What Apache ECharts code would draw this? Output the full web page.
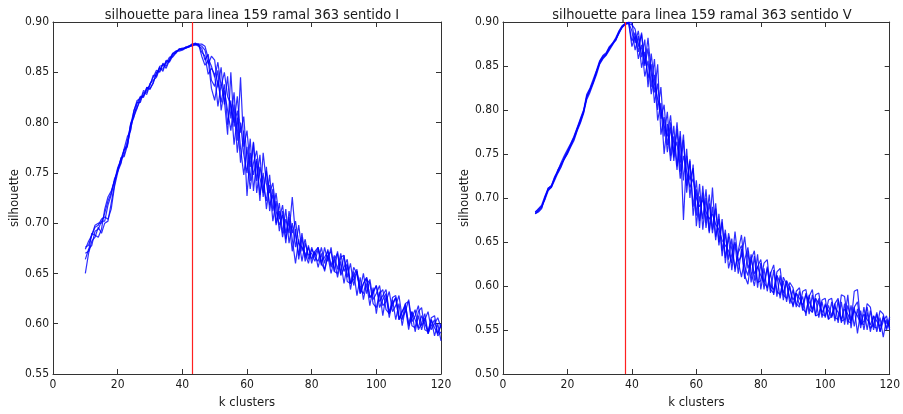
<!DOCTYPE html>
<html>
<head>
<meta charset="utf-8">
<script src="https://cdn.jsdelivr.net/npm/echarts@6/dist/echarts.min.js"></script>
<style>html,body{margin:0;padding:0;background:#fff}#c{width:903px;height:414px}</style>
</head>
<body>
<div id="c"></div>
<script>
const kValues = [10,11,12,13,14,15,16,17,18,19,20,21,22,23,24,25,26,27,28,29,30,31,32,33,34,35,36,37,38,39,40,41,42,43,44,45,46,47,48,49,50,51,52,53,54,55,56,57,58,59,60,61,62,63,64,65,66,67,68,69,70,71,72,73,74,75,76,77,78,79,80,81,82,83,84,85,86,87,88,89,90,91,92,93,94,95,96,97,98,99,100,101,102,103,104,105,106,107,108,109,110,111,112,113,114,115,116,117,118,119,120];

const titleI = "silhouette para linea 159 ramal 363 sentido I";
const titleV = "silhouette para linea 159 ramal 363 sentido V";
const bestK_I = 43;
const bestK_V = 38;
const xTicks = [0, 120, 20];
const yTicksI = [0.55, 0.90, 0.05];
const yTicksV = [0.50, 0.90, 0.05];

const runI_1 = [.650,.670,.682,.686,.696,.690,.700,.702,.720,.738,
.754,.760,.774,.786,.792,.812,.820,.820,.830,.828,
.838,.845,.852,.850,.858,.854,.862,.868,.871,.872,
.873,.874,.875,.878,.878,.878,.866,.857,.862,.834,
.822,.842,.820,.838,.798,.822,.778,.805,.760,.792,
.727,.770,.748,.764,.728,.750,.714,.738,.702,.722,
.692,.712,.684,.702,.672,.694,.664,.686,.662,.678,
.660,.672,.656,.670,.652,.668,.650,.664,.646,.662,
.640,.658,.634,.652,.628,.646,.624,.640,.618,.636,
.610,.632,.608,.628,.606,.624,.604,.620,.598,.616,
.594,.612,.592,.608,.594,.606,.590,.604,.588,.600,
.583];
const runI_2 = [.676,.678,.688,.696,.698,.704,.706,.704,.714,.736,
.750,.765,.766,.777,.799,.806,.814,.825,.825,.835,
.833,.840,.849,.855,.851,.861,.860,.866,.870,.873,
.873,.875,.875,.877,.879,.877,.876,.872,.858,.866,
.862,.835,.855,.818,.846,.804,.830,.782,.845,.776,
.792,.756,.780,.742,.768,.726,.756,.712,.734,.700,
.720,.690,.714,.680,.700,.676,.698,.672,.684,.664,
.674,.668,.676,.662,.666,.672,.656,.664,.670,.648,
.656,.664,.640,.648,.654,.630,.640,.646,.626,.630,
.638,.622,.628,.634,.612,.620,.626,.604,.612,.618,
.600,.612,.604,.596,.608,.600,.592,.604,.596,.590,
.600];
const runI_3 = [.670,.672,.690,.688,.686,.694,.714,.726,.732,.742,
.755,.763,.768,.782,.798,.811,.822,.824,.827,.833,
.837,.847,.846,.856,.857,.859,.865,.865,.869,.873,
.874,.874,.876,.877,.877,.878,.870,.866,.848,.854,
.848,.816,.838,.822,.788,.850,.796,.812,.775,.748,
.776,.742,.781,.730,.756,.738,.722,.748,.712,.730,
.704,.718,.690,.706,.684,.660,.684,.662,.680,.668,
.670,.662,.674,.658,.676,.662,.676,.652,.672,.650,
.668,.646,.660,.638,.652,.634,.650,.630,.644,.624,
.630,.638,.618,.622,.632,.612,.618,.628,.606,.612,
.624,.602,.608,.618,.598,.604,.612,.594,.600,.606,
.596];
const runI_4 = [.664,.674,.678,.692,.694,.702,.702,.718,.728,.744,
.751,.759,.773,.776,.797,.805,.819,.826,.826,.835,
.834,.839,.850,.851,.859,.856,.863,.869,.871,.871,
.872,.874,.876,.876,.878,.876,.874,.862,.868,.842,
.836,.852,.812,.832,.812,.792,.818,.770,.800,.768,
.750,.784,.732,.762,.722,.770,.740,.718,.728,.698,
.712,.686,.704,.690,.726,.688,.668,.690,.666,.676,
.664,.672,.676,.660,.654,.668,.672,.652,.650,.666,
.668,.642,.640,.656,.650,.634,.630,.644,.640,.620,
.616,.630,.634,.614,.610,.626,.628,.608,.604,.620,
.622,.598,.596,.612,.616,.594,.592,.606,.608,.590,
.598];
const runI_5 = [.674,.682,.688,.698,.700,.700,.710,.722,.730,.742,
.752,.764,.773,.778,.793,.809,.815,.822,.832,.830,
.839,.842,.845,.854,.853,.862,.861,.868,.869,.873,
.873,.875,.876,.878,.878,.878,.878,.876,.864,.856,
.845,.860,.836,.850,.826,.818,.800,.826,.790,.806,
.762,.734,.760,.772,.745,.730,.752,.730,.740,.712,
.698,.708,.680,.712,.690,.702,.680,.676,.670,.660,
.676,.666,.662,.676,.660,.674,.658,.668,.654,.670,
.652,.660,.640,.644,.652,.630,.640,.646,.626,.632,
.638,.616,.624,.630,.610,.618,.626,.604,.612,.620,
.598,.606,.614,.594,.600,.610,.590,.598,.604,.588,
.592];

const runV_1 = [.682,.684,.688,.700,.710,.712,.722,.730,.738,.745,
.752,.760,.768,.778,.786,.798,.815,.822,.832,.842,
.854,.860,.863,.870,.875,.880,.888,.895,.898,.899,
.890,.868,.884,.848,.866,.836,.852,.808,.830,.790,
.806,.760,.786,.742,.778,.730,.766,.714,.742,.690,
.720,.674,.706,.666,.694,.660,.688,.646,.672,.632,
.656,.618,.648,.614,.642,.608,.640,.604,.634,.598,
.626,.596,.622,.592,.618,.588,.612,.584,.606,.580,
.596,.576,.594,.572,.592,.568,.590,.566,.586,.564,
.580,.562,.582,.560,.584,.558,.580,.556,.578,.554,
.574,.552,.576,.550,.572,.550,.568,.548,.566,.550,
.562];
const runV_2 = [.684,.688,.692,.702,.711,.714,.724,.731,.740,.748,
.755,.762,.770,.780,.790,.800,.818,.825,.835,.845,
.856,.862,.865,.872,.876,.882,.890,.896,.898,.898,
.897,.892,.872,.886,.850,.870,.826,.858,.800,.826,
.770,.798,.748,.782,.736,.770,.675,.748,.720,.734,
.680,.716,.664,.700,.660,.690,.652,.682,.640,.664,
.620,.636,.650,.628,.610,.630,.644,.616,.600,.622,
.630,.604,.598,.614,.624,.594,.590,.610,.602,.586,
.578,.594,.598,.574,.570,.588,.596,.566,.568,.584,
.586,.562,.566,.580,.586,.560,.562,.590,.552,.576,
.582,.556,.560,.576,.552,.556,.570,.548,.560,.566,
.550];
const runV_3 = [.682,.686,.690,.698,.708,.712,.720,.728,.735,.744,
.750,.758,.765,.776,.785,.796,.812,.820,.830,.840,
.852,.858,.862,.868,.874,.880,.887,.894,.897,.899,
.878,.888,.858,.874,.838,.856,.818,.840,.788,.808,
.750,.784,.742,.770,.732,.776,.720,.756,.700,.738,
.668,.702,.676,.710,.662,.712,.656,.676,.634,.660,
.630,.654,.616,.640,.658,.622,.612,.636,.606,.636,
.596,.620,.594,.616,.590,.612,.586,.606,.582,.600,
.576,.592,.578,.588,.566,.590,.570,.586,.564,.582,
.564,.578,.566,.580,.558,.582,.556,.578,.562,.576,
.546,.572,.550,.570,.548,.566,.548,.564,.542,.562,
.552];
const runV_4 = [.683,.685,.689,.701,.709,.713,.723,.729,.736,.746,
.753,.761,.769,.779,.788,.797,.816,.824,.833,.843,
.855,.861,.864,.871,.875,.881,.889,.895,.899,.899,
.872,.884,.866,.888,.852,.882,.842,.820,.852,.772,
.792,.752,.780,.746,.786,.740,.772,.706,.744,.680,
.710,.666,.714,.672,.704,.664,.694,.650,.676,.626,
.660,.642,.620,.638,.646,.612,.602,.630,.640,.604,
.606,.626,.630,.596,.592,.616,.620,.590,.586,.604,
.598,.580,.576,.594,.596,.574,.570,.590,.592,.568,
.566,.584,.586,.564,.562,.590,.588,.560,.558,.594,
.596,.558,.556,.580,.576,.554,.552,.572,.568,.552,
.565];
const runV_5 = [.684,.687,.691,.699,.711,.714,.721,.732,.738,.744,
.751,.759,.767,.777,.789,.799,.814,.823,.831,.844,
.853,.859,.863,.869,.876,.879,.888,.894,.898,.900,
.899,.876,.890,.860,.880,.826,.864,.830,.812,.800,
.782,.770,.794,.752,.764,.722,.748,.730,.712,.722,
.700,.690,.698,.684,.676,.682,.670,.664,.652,.646,
.640,.626,.662,.628,.634,.656,.620,.630,.614,.622,
.612,.604,.620,.600,.596,.612,.604,.592,.606,.598,
.584,.592,.586,.578,.590,.582,.574,.586,.580,.570,
.578,.572,.564,.576,.570,.562,.574,.568,.560,.572,
.566,.558,.568,.562,.556,.566,.560,.554,.564,.558,
.556];

const runsI = [runI_1, runI_2, runI_3, runI_4, runI_5];
const runsV = [runV_1, runV_2, runV_3, runV_4, runV_5];

const FONT = "'DejaVu Sans Condensed', 'DejaVu Sans', sans-serif";
const TXT = '#1a1a1a';
const FRAME = '#333';
const grids = [
  {left: 53, top: 22, width: 388, height: 353},
  {left: 503, top: 22, width: 389, height: 353}
];

function xAx(gi, pos, showLabel, name) {
  return {
    type: 'value', gridIndex: gi, position: pos, min: xTicks[0], max: xTicks[1], interval: xTicks[2],
    name: name || '', nameLocation: 'middle', nameGap: 22,
    nameTextStyle: {fontFamily: FONT, fontSize: 13, color: TXT},
    axisLine: {show: true, onZero: false, lineStyle: {color: FRAME, width: 1}},
    axisTick: {show: true, inside: true, length: 5, lineStyle: {color: FRAME}},
    axisLabel: {show: showLabel, fontFamily: FONT, fontSize: 12, color: TXT, margin: 5},
    splitLine: {show: false}
  };
}
function yAx(gi, pos, ticks, showLabel, name) {
  return {
    type: 'value', gridIndex: gi, position: pos, min: ticks[0], max: ticks[1], interval: ticks[2],
    name: name || '', nameLocation: 'middle', nameGap: 30, nameRotate: 90,
    nameTextStyle: {fontFamily: FONT, fontSize: 13, color: TXT},
    axisLine: {show: true, onZero: false, lineStyle: {color: FRAME, width: 1}},
    axisTick: {show: true, inside: true, length: 5, lineStyle: {color: FRAME}},
    axisLabel: {show: showLabel, fontFamily: FONT, fontSize: 12, color: TXT, margin: 4,
      formatter: v => v.toFixed(2)},
    splitLine: {show: false}
  };
}

const series = [];
function addRuns(runs, xi, yi, bestK) {
  runs.forEach((r, i) => {
    const s = {
      type: 'line', xAxisIndex: xi, yAxisIndex: yi,
      data: kValues.map((k, j) => [k, r[j]]),
      showSymbol: false, symbol: 'none', silent: true, animation: false,
      lineStyle: {color: 'rgba(0,0,255,0.82)', width: 1.2},
      z: 2
    };
    if (i === runs.length - 1) {
      s.markLine = {
        silent: true, symbol: 'none', animation: false,
        label: {show: false},
        lineStyle: {color: '#ff2020', width: 1.2, type: 'solid'},
        data: [{xAxis: bestK}],
        z: 5
      };
    }
    series.push(s);
  });
}
addRuns(runsI, 0, 0, bestK_I);
addRuns(runsV, 2, 2, bestK_V);

const chart = echarts.init(document.getElementById('c'), null, {renderer: 'canvas'});
chart.setOption({
  animation: false,
  backgroundColor: '#fff',
  title: [
    {text: titleI, left: 53 + 194, top: 3, textAlign: 'center',
     textStyle: {fontFamily: FONT, fontSize: 14.5, fontWeight: 'normal', color: TXT}},
    {text: titleV, left: 503 + 194, top: 3, textAlign: 'center',
     textStyle: {fontFamily: FONT, fontSize: 14.5, fontWeight: 'normal', color: TXT}}
  ],
  grid: grids,
  xAxis: [xAx(0, 'bottom', true, 'k clusters'), xAx(0, 'top', false), xAx(1, 'bottom', true, 'k clusters'), xAx(1, 'top', false)],
  yAxis: [yAx(0, 'left', yTicksI, true, 'silhouette'), yAx(0, 'right', yTicksI, false), yAx(1, 'left', yTicksV, true, 'silhouette'), yAx(1, 'right', yTicksV, false)],
  series: series
});
</script>
</body>
</html>
